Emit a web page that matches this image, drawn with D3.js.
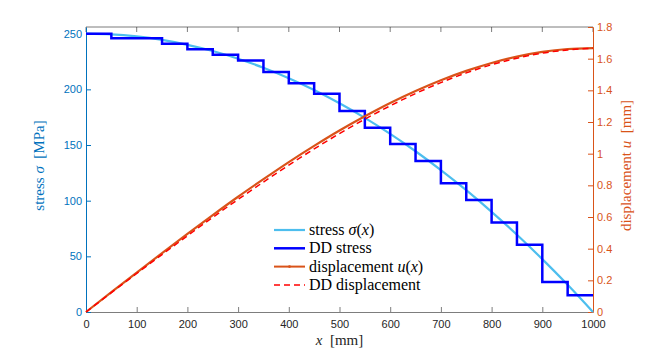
<!DOCTYPE html>
<html>
<head>
<meta charset="utf-8">
<script src="https://cdn.jsdelivr.net/npm/d3@7"></script>
<style>
  body { margin: 0; background: #fff; }
  .tick text { font-family: "Liberation Sans", Arial, sans-serif; font-size: 11px; }
  .lbl { font-family: "Liberation Serif", "Times New Roman", serif; font-size: 15px; }
  .leg { font-family: "Liberation Serif", "Times New Roman", serif; font-size: 16px; fill: #000; }
</style>
</head>
<body>
<div id="chart"></div>
<script>
/* stress / displacement along the bar: analytic vs DD (discrete) */
const W = 656, H = 351;
const MARGIN = { top: 27, right: 63, bottom: 39, left: 86 };

// positions along the bar [mm]
const X_POS = [0, 50, 100, 150, 200, 250, 300, 350, 400, 450, 500,
               550, 600, 650, 700, 750, 800, 850, 900, 950, 1000];
// stress sigma(x) [MPa]
const STRESS = [250, 249.4, 247.5, 244.4, 240, 234.4, 227.5, 219.4, 210, 199.4, 187.5,
                174.4, 160, 144.4, 127.5, 109.4, 90, 69.4, 47.5, 24.4, 0];
// displacement u(x) [mm]
const DISP = [0, 0.125, 0.249, 0.372, 0.493, 0.612, 0.728, 0.839, 0.947, 1.049, 1.146,
              1.236, 1.32, 1.396, 1.464, 1.523, 1.573, 1.613, 1.643, 1.661, 1.667];
// DD displacement [mm]
const DD_DISP = [0, 0.122, 0.243, 0.363, 0.481, 0.598, 0.711, 0.821, 0.928, 1.030, 1.127,
                 1.218, 1.302, 1.380, 1.449, 1.510, 1.562, 1.603, 1.635, 1.655, 1.666];

// DD stress: element edges and constant level per element
const DD_EDGES = [0, 50, 150, 200, 250, 300, 350, 400, 450, 500, 550,
                  600, 650, 700, 750, 800, 850, 900, 950, 1000];
const DD_LEVELS = [250, 246, 241, 236, 231, 226, 215.6, 205.5, 196, 180.6,
                   165.6, 150.8, 135.6, 115.6, 100.6, 80.3, 60.3, 27, 15];

const X_TICKS = d3.range(0, 1001, 100);
const L_TICKS = [0, 50, 100, 150, 200, 250];
const R_TICKS = [0, 0.2, 0.4, 0.6, 0.8, 1, 1.2, 1.4, 1.6, 1.8];

const BLUE_AX = "#0072BD", ORANGE = "#D95319";
const C_STRESS = "#4DBEEE", C_DD = "#0000FF", C_DDU = "#FF0000";

const w = W - MARGIN.left - MARGIN.right;
const h = H - MARGIN.top - MARGIN.bottom;

const x = d3.scaleLinear().domain([0, 1000]).range([0, w]);
const yL = d3.scaleLinear().domain([0, 256]).range([h, 0]);
const yR = d3.scaleLinear().domain([0, 1.8]).range([h, 0]);

const svg = d3.select("#chart").append("svg")
  .attr("width", W).attr("height", H)
  .append("g")
  .attr("transform", `translate(${MARGIN.left},${MARGIN.top})`);

// top border + top ticks
svg.append("line").attr("x1", 0).attr("x2", w).attr("y1", 0).attr("y2", 0)
  .attr("stroke", "#262626").attr("stroke-opacity", 0.6);
svg.append("g").selectAll("line").data(X_TICKS).join("line")
  .attr("x1", d => x(d)).attr("x2", d => x(d)).attr("y1", 0).attr("y2", 5)
  .attr("stroke", "#262626").attr("stroke-opacity", 0.6);

// bottom axis
const gx = svg.append("g").attr("transform", `translate(0,${h})`)
  .call(d3.axisBottom(x).tickValues(X_TICKS).tickFormat(d3.format("d"))
    .tickSizeInner(-5).tickSizeOuter(0).tickPadding(8));
gx.select(".domain").attr("stroke", "#262626").attr("stroke-opacity", 0.6);
gx.selectAll(".tick line").attr("stroke", "#262626").attr("stroke-opacity", 0.6);
gx.selectAll(".tick text").attr("fill", "#262626");

// left axis
const gl = svg.append("g")
  .call(d3.axisLeft(yL).tickValues(L_TICKS).tickSizeInner(-5).tickSizeOuter(0).tickPadding(4));
gl.select(".domain").attr("stroke", BLUE_AX);
gl.selectAll(".tick line").attr("stroke", BLUE_AX);
gl.selectAll(".tick text").attr("fill", BLUE_AX);

// right axis
const gr = svg.append("g").attr("transform", `translate(${w},0)`)
  .call(d3.axisRight(yR).tickValues(R_TICKS).tickFormat(d3.format("~g"))
    .tickSizeInner(-5).tickSizeOuter(0).tickPadding(4));
gr.select(".domain").attr("stroke", ORANGE);
gr.selectAll(".tick line").attr("stroke", ORANGE);
gr.selectAll(".tick text").attr("fill", ORANGE);

// curves
const stressPts = X_POS.map((d, i) => [d, STRESS[i]]);
svg.append("path").datum(stressPts)
  .attr("fill", "none").attr("stroke", C_STRESS).attr("stroke-width", 2.2)
  .attr("d", d3.line().x(d => x(d[0])).y(d => yL(d[1])).curve(d3.curveMonotoneX));

const stepPts = DD_LEVELS.map((v, i) => [DD_EDGES[i], v]);
stepPts.push([DD_EDGES[DD_EDGES.length - 1], DD_LEVELS[DD_LEVELS.length - 1]]);
svg.append("path").datum(stepPts)
  .attr("fill", "none").attr("stroke", C_DD).attr("stroke-width", 2.5)
  .attr("d", d3.line().x(d => x(d[0])).y(d => yL(d[1])).curve(d3.curveStepAfter));

const dispPts = X_POS.map((d, i) => [d, DISP[i]]);
svg.append("path").datum(dispPts)
  .attr("fill", "none").attr("stroke", ORANGE).attr("stroke-width", 2.2)
  .attr("d", d3.line().x(d => x(d[0])).y(d => yR(d[1])).curve(d3.curveMonotoneX));

const ddDispPts = X_POS.map((d, i) => [d, DD_DISP[i]]);
svg.append("path").datum(ddDispPts)
  .attr("fill", "none").attr("stroke", C_DDU).attr("stroke-width", 1.5)
  .attr("stroke-dasharray", "6,4")
  .attr("d", d3.line().x(d => x(d[0])).y(d => yR(d[1])).curve(d3.curveMonotoneX));

// axis labels
const xl = svg.append("text").attr("class", "lbl").attr("x", w / 2).attr("y", h + 33)
  .attr("text-anchor", "middle").attr("fill", "#262626");
xl.append("tspan").attr("font-style", "italic").text("x");
xl.append("tspan").text("\u2002[mm]");

const ll = svg.append("text").attr("class", "lbl")
  .attr("transform", `translate(${-42},${h / 2 - 4}) rotate(-90)`)
  .attr("text-anchor", "middle").attr("fill", BLUE_AX);
ll.append("tspan").text("stress ");
ll.append("tspan").attr("font-style", "italic").text("\u03c3");
ll.append("tspan").text("\u2002[MPa]");

const rl = svg.append("text").attr("class", "lbl")
  .attr("transform", `translate(${w + 38},${h / 2 - 4}) rotate(-90)`)
  .attr("text-anchor", "middle").attr("fill", ORANGE);
rl.append("tspan").text("displacement ");
rl.append("tspan").attr("font-style", "italic").text("u");
rl.append("tspan").text("\u2002[mm]");

// legend
const LEGEND = [
  { label: ["stress ", "\u03c3", "(", "x", ")"], color: C_STRESS, w: 2.2, dash: null },
  { label: ["DD stress"], color: C_DD, w: 2.5, dash: null },
  { label: ["displacement ", "u", "(", "x", ")"], color: ORANGE, w: 2, dash: null, dot: true },
  { label: ["DD displacement"], color: C_DDU, w: 1.5, dash: "6,4" },
];
const lg = svg.append("g").attr("transform", `translate(${274 - MARGIN.left},${230 - MARGIN.top})`);
LEGEND.forEach((d, i) => {
  const row = lg.append("g").attr("transform", `translate(0,${i * 18.3})`);
  row.append("line").attr("x1", 0).attr("x2", 31).attr("y1", 0).attr("y2", 0)
    .attr("stroke", d.color).attr("stroke-width", d.w)
    .attr("stroke-dasharray", d.dash);
  if (d.dot) row.append("circle").attr("cx", 15.5).attr("cy", 0).attr("r", 1.4).attr("fill", ORANGE);
  const t = row.append("text").attr("class", "leg").attr("x", 35).attr("y", 5);
  d.label.forEach((s, j) => {
    const it = (s === "\u03c3" || s === "u" || s === "x");
    t.append("tspan").attr("font-style", it ? "italic" : null).text(s);
  });
});
</script>
</body>
</html>
